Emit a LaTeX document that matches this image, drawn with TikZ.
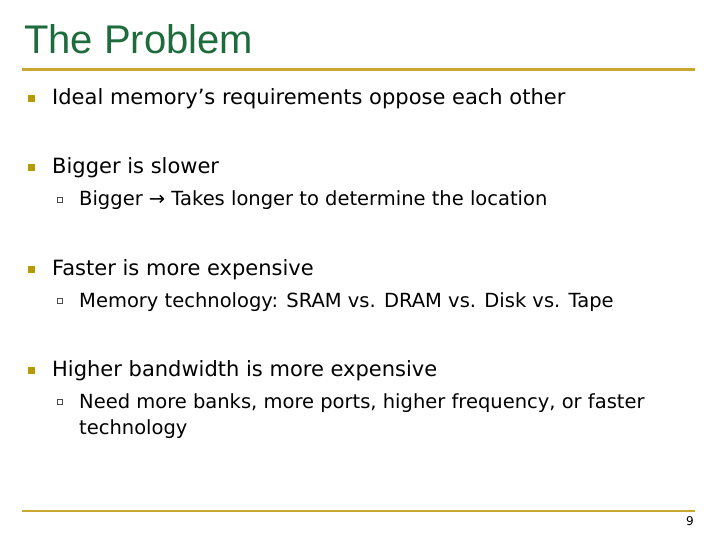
\documentclass[tikz,border=0pt]{standalone}
\usepackage{fontspec}
\setmainfont{DejaVu Sans}
\newfontfamily\titlefont{Liberation Sans}
\definecolor{titlegreen}{HTML}{1E6B3C}
\definecolor{gold}{HTML}{C9A832}
\definecolor{bulletc}{HTML}{B39B00}
\begin{document}
\begin{tikzpicture}[x=1pt,y=-1pt,
  body/.style={anchor=base west,inner sep=0pt,font=\fontsize{21}{24}\selectfont},
  sub/.style={anchor=base west,inner sep=0pt,font=\fontsize{19.5}{22}\selectfont},
  bul/.style={fill=bulletc,minimum size=7pt,inner sep=0pt},
  sbul/.style={draw=black!70,line width=0.6pt,minimum size=5.5pt,inner sep=0pt}]
\useasboundingbox (0,0) rectangle (720,540);
\node[anchor=base west,inner sep=0pt,text=titlegreen,font=\titlefont\fontsize{40}{44}\selectfont] (title) at (24,54) {The Problem};
\draw[gold,line width=3pt] (22,70) coordinate (l1a) -- (695,70) coordinate (l1b);
\draw[gold,line width=2.5pt] (22,511) coordinate (l2a) -- (695,511) coordinate (l2b);
\node[bul] (b1) at (31,99) {}; \node[body] (t1) at (52,105) {Ideal memory’s requirements oppose each other};
\node[bul] (b2) at (31,168) {}; \node[body] (t2) at (52,174) {Bigger is slower};
\node[sbul] (s1) at (60,200) {}; \node[sub] (u1) at (79,206) {Bigger → Takes longer to determine the location};
\node[bul] (b3) at (31,269) {}; \node[body] (t3) at (52,275) {Faster is more expensive};
\node[sbul] (s2) at (60,301) {}; \node[sub] (u2) at (79,307) {Memory technology: SRAM vs. DRAM vs. Disk vs. Tape};
\node[bul] (b4) at (31,370) {}; \node[body] (t4) at (52,376) {Higher bandwidth is more expensive};
\node[sbul] (s3) at (60,402) {}; \node[sub] (u3) at (79,408) {Need more banks, more ports, higher frequency, or faster};
\node[sub] (u3b) at (79,434) {technology};
\node[anchor=base east,inner sep=0pt,font=\fontsize{12}{14}\selectfont] (pg) at (694,525) {9};
\end{tikzpicture}
\end{document}
